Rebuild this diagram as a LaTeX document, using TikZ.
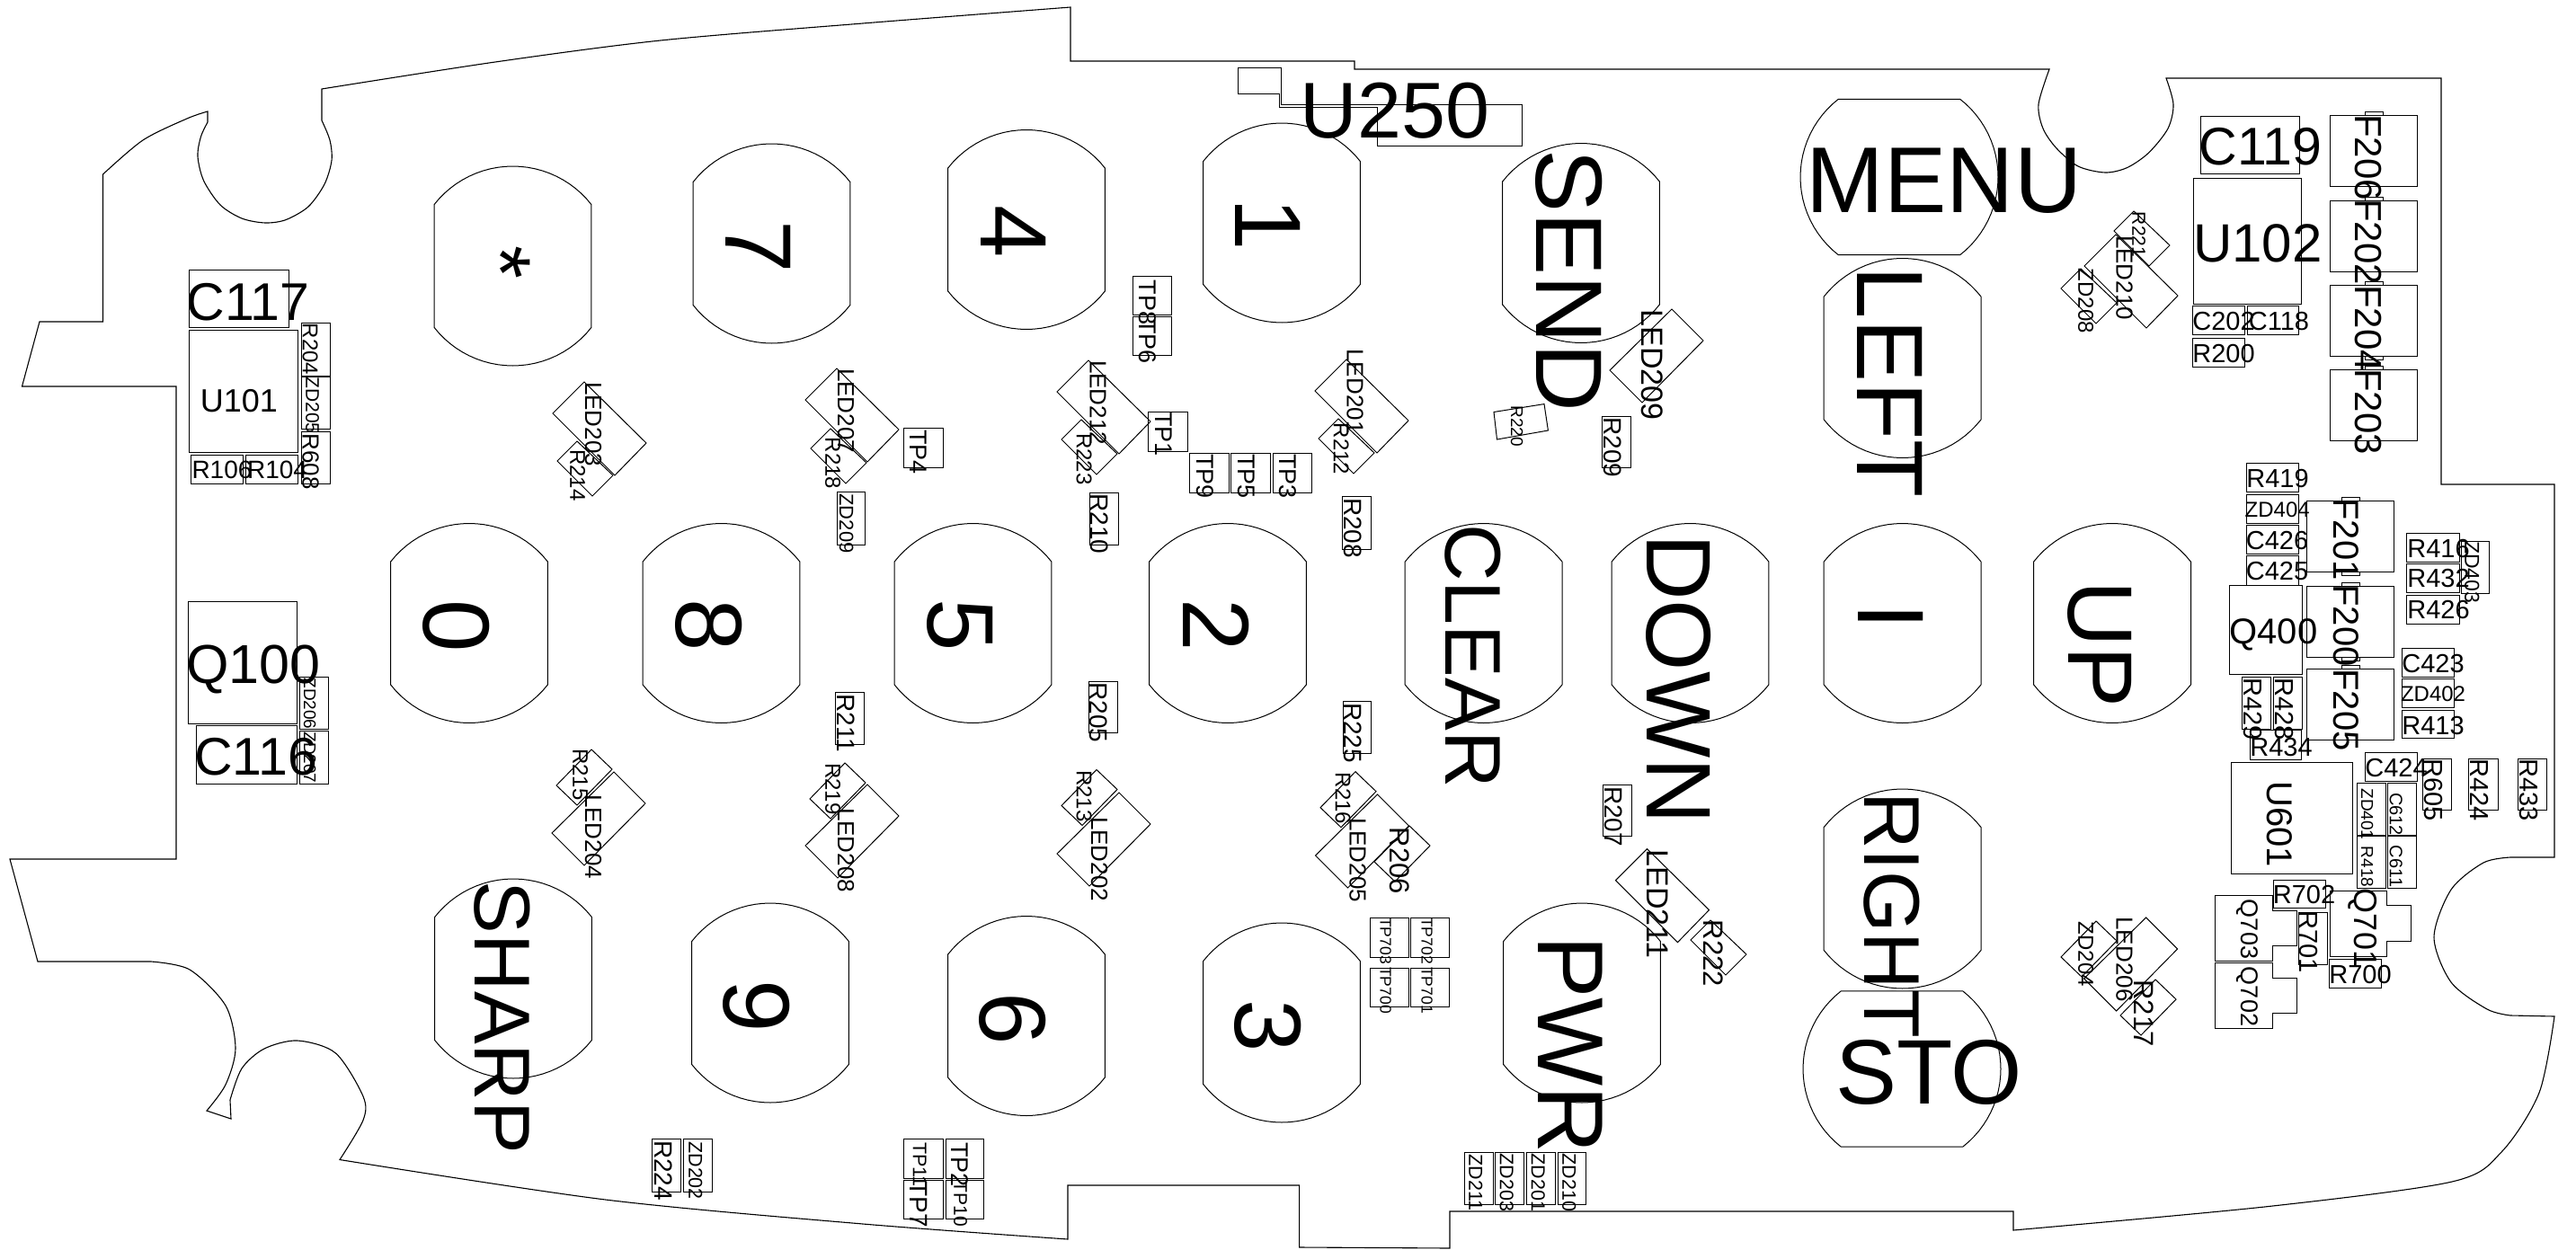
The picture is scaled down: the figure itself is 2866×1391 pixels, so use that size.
\documentclass[tikz,border=0pt]{standalone}
\usepackage{fontspec}
\setmainfont{Liberation Sans}
\tikzset{
  part/.style={line width=1pt,draw=black,line join=miter},
  board/.style={line width=1.1pt,draw=black,line join=miter},
  lab/.style={inner sep=0pt,outer sep=0pt,text=black}
}
\newcommand\hlab[4]{\node[lab,font=\fontsize{#3}{#3}\selectfont,text height=#3*0.72pt,text depth=0pt] (t-#4) at (#1,#2) {#4};}
\newcommand\vlab[4]{\node[lab,rotate=-90,font=\fontsize{#3}{#3}\selectfont,text height=#3*0.72pt,text depth=0pt] (t-#4) at (#1,#2) {#4};}
\newcommand\rc[4]{\draw[part] (#1,#2) rectangle (#3,#4);}
\newcommand\vkeycap[2]{\draw[part] plot[domain=218:322,samples=25,variable=\t] ({#1+111*cos(\t)},{#2+111*sin(\t)}) -- plot[domain=38:142,samples=25,variable=\t] ({#1+111*cos(\t)},{#2+111*sin(\t)}) -- cycle;}
\newcommand\hkeycap[2]{\draw[part] plot[domain=-52:52,samples=25,variable=\t] ({#1+110*cos(\t)},{#2+110*sin(\t)}) -- plot[domain=128:232,samples=25,variable=\t] ({#1+110*cos(\t)},{#2+110*sin(\t)}) -- cycle;}
\newcommand\leda[2]{\draw[part,shift={(#1,#2)}] (0,0) -- (-35,35) -- (34,104) -- (69,68) -- cycle;}
\newcommand\ledb[2]{\draw[part,shift={(#1,#2)}] (0,0) -- (35,35) -- (-33,104) -- (-69,68) -- cycle;}
\newcommand\resa[2]{\draw[part,shift={(#1,#2)}] (0,0) -- (-22,22) -- (17,61) -- (40,38) -- cycle;}
\newcommand\resb[2]{\draw[part,shift={(#1,#2)}] (0,0) -- (23,22) -- (-16,62) -- (-39,40) -- cycle;}
\newcommand\fuse[3]{\draw[part] (#1,#2) rectangle ++(97,79); \draw[part] (#1+39,#2) -- (#1+39,#2-4) -- (#1+59,#2-4) -- (#1+59,#2);}
\newcommand\fusetail[2]{\draw[part] (#1+39,#2+79) -- (#1+39,#2+83) -- (#1+59,#2+83) -- (#1+59,#2+79);}
\newcommand\tshape[2]{\draw[part,shift={(#1,#2)}] (0,0) -- (64,0) -- (64,17) -- (91.7,17) -- (91.7,56) -- (64,56) -- (64,73) -- (0,73) -- cycle;}
\begin{document}
\begin{tikzpicture}[x=1pt,y=-1pt]
\useasboundingbox (0,0) rectangle (2866,1391);
% board outline
\draw[board] (358,99) -- (358,134)
 -- plot[smooth] coordinates {(358,134) (367,156) (369,178.6) (361,205) (343,230) (318,244.6) (295,248) (269,243) (245,228) (226.6,201) (220,174) (223.5,152) (231,136)}
 -- (231,124)
 -- plot[smooth] coordinates {(231,124) (208,132) (159,156) (114.5,194)}
 -- (114.5,358) -- (44,358) -- (24.5,430) -- (196,430) -- (196,956) -- (11,956) -- (42,1070) -- (168,1070)
 -- plot[smooth] coordinates {(168,1070) (211,1079) (251,1119) (262,1167) (251,1207) (230,1236)}
 -- (257,1245) -- (256,1224)
 -- plot[smooth] coordinates {(256,1224) (269,1189) (294,1167) (331,1158) (373.5,1172) (404,1220) (404,1246.5) (378,1290.5)}
 -- plot[smooth] coordinates {(378,1290.5) (673.6,1335) (960,1362) (1188,1379)}
 -- (1188,1319) -- (1445.6,1319) -- (1445.6,1388) -- (1613,1389) -- (1613,1348) -- (2240,1348) -- (2240,1369)
 -- plot[smooth] coordinates {(2240,1369) (2523,1342.6) (2728,1315) (2783,1282) (2825,1216) (2842,1131)}
 -- (2793,1130)
 -- plot[smooth] coordinates {(2793,1130) (2767,1123) (2727,1093) (2708,1043) (2727,990) (2763,960) (2793,954)}
 -- (2842,954) -- (2842,539) -- (2716,539) -- (2716,87) -- (2410,87)
 -- plot[smooth] coordinates {(2410,87) (2418,116) (2412,143) (2390.6,170) (2366.5,186.6) (2342,192) (2312,185) (2288,165) (2273,143) (2268,116) (2280,77)}
 -- (1507,77) -- (1507,68) -- (1191,68) -- (1191,8)
 -- plot[smooth] coordinates {(1191,8) (960,26) (735,45) (551,69) (358,99)}
 -- cycle;
% keys
\vkeycap{570.5}{296}\vkeycap{858.5}{271}\vkeycap{1142}{255.5}\vkeycap{1426}{248}\vkeycap{1759}{270.5}\vkeycap{2116.6}{398.5}
\vkeycap{522}{693.5}\vkeycap{802.5}{693.5}\vkeycap{1082.5}{693.5}\vkeycap{1366}{693.5}\vkeycap{1650.6}{693.5}\vkeycap{1880.5}{693.5}\vkeycap{2116.6}{693.5}\vkeycap{2350}{693.5}
\vkeycap{2116.6}{989}\vkeycap{571}{1089}\vkeycap{857}{1116}\vkeycap{1142}{1130.5}\vkeycap{1426}{1138}\vkeycap{1760}{1116}
\hkeycap{2113}{197}\hkeycap{2116}{1189.5}
% key labels
\vlab{559}{292}{95}{*}
\vlab{845}{274.5}{105}{7}
\vlab{1129.5}{258}{105}{4}
\vlab{1412}{250}{105}{1}
\vlab{1747}{312}{105}{SEND}
\vlab{509}{696.5}{105}{0}
\vlab{790}{696}{105}{8}
\vlab{1070}{696}{105}{5}
\vlab{1354}{696}{105}{2}
\vlab{1640}{730}{88}{CLEAR}
\vlab{1869}{755.5}{102}{DOWN}
\vlab{2105}{686}{105}{I}
\vlab{2338.5}{717}{102}{UP}
\vlab{2104}{425}{105}{LEFT}
\hlab{2163}{199}{104}{MENU}
\hlab{1552}{121.5}{88}{U250}
\vlab{2106}{1018}{88}{RIGHT}
\hlab{2146}{1192}{102}{STO}
\vlab{560}{1132.5}{88}{SHARP}
\vlab{843}{1120}{105}{9}
\vlab{1128}{1134}{105}{6}
\vlab{1412}{1142}{105}{3}
\vlab{1749}{1162.5}{104}{PWR}
% U250 outline
\draw[part] (1377.6,76) -- (1425.4,76) -- (1425.4,117) -- (1693,117) -- (1693,163) -- (1532.5,163) -- (1532.5,119.6) -- (1423.5,119.6) -- (1423.5,105) -- (1377.6,105) -- cycle;
% diamonds
\leda{650}{425}\leda{931}{410}\leda{1211}{401}\leda{1498}{400}\leda{1832.5}{944.6}\leda{2354}{261}
\ledb{1860}{344}\ledb{683}{859}\ledb{965}{873}\ledb{1245}{882}\ledb{1532.5}{884}\ledb{2387.6}{1021}
\resa{642}{491}\resa{924}{477}\resa{1203}{467}\resa{1489}{466}\resa{1903}{1024}\resa{2374}{235}\resa{2315}{299}
\resb{658}{834}\resb{940}{849}\resb{1220}{856.5}\resb{1508}{858.7}\resb{1568}{919}\resb{2332}{1025}\resb{2398}{1090}
\draw[part] (1662,458.5) -- (1718,449.6) -- (1722.4,479) -- (1665.5,489) -- cycle;
% diamond labels
\vlab{660.5}{472}{26}{LED203}\vlab{643}{529}{24}{R214}
\vlab{941.5}{457}{26}{LED207}\vlab{927}{515.5}{24}{R218}
\vlab{1222}{448}{26}{LED212}\vlab{1206.5}{511}{24}{R223}
\vlab{1508}{435.5}{26}{LED201}\vlab{1492.5}{499.5}{24}{R212}
\vlab{1839}{406}{34}{LED209}\vlab{1688}{474}{19}{R220}
\vlab{646}{862}{24}{R215}\vlab{660.5}{931}{26}{LED204}
\vlab{927}{878}{24}{R219}\vlab{941.5}{946}{26}{LED208}
\vlab{1206.5}{886}{24}{R213}\vlab{1223.5}{956}{26}{LED202}
\vlab{1494.5}{888.5}{24}{R216}\vlab{1511}{957}{26}{LED205}
\vlab{1558}{958}{31}{R206}
\vlab{1844.5}{1006}{34}{LED211}\vlab{1907}{1061}{31}{R222}
\vlab{2380}{261}{21}{R221}\vlab{2364}{309}{26}{LED210}\vlab{2321}{335}{24}{ZD208}
\vlab{2364}{1067.5}{26}{LED206}\vlab{2321}{1062}{24}{ZD204}\vlab{2386}{1127.5}{31}{R217}
% left group
\rc{210}{300.5}{321.7}{364}\hlab{276}{335}{59}{C117}
\rc{210.7}{367}{331.7}{503}\hlab{266}{445.5}{36}{U101}
\rc{335.7}{359}{367}{418}\vlab{345.5}{388.5}{24}{R204}
\rc{335.7}{419}{367}{477.6}\vlab{348}{451}{21}{ZD205}
\rc{335.7}{480}{367}{538}\vlab{346}{513.6}{26}{R608}
\rc{212.7}{506.5}{270.7}{538}\hlab{247}{522}{28}{R106}
\rc{273}{506.5}{331.7}{538}\hlab{308.5}{522}{28}{R104}
\rc{209}{669}{330}{805}\hlab{282}{738.5}{61}{Q100}
\rc{218}{807.7}{330}{872}\hlab{284.5}{841.5}{59}{C116}
\rc{333.7}{753.5}{365}{811.6}\vlab{345}{783}{19}{ZD206}
\rc{333.7}{813.6}{365}{872}\vlab{345}{843}{19}{ZD207}
% middle group
\rc{931}{547}{962}{606}\vlab{942}{582.5}{22}{ZD209}
\rc{1005}{476}{1049}{520}\vlab{1022.5}{503}{27}{TP4}
\rc{1277}{458}{1321}{502}\vlab{1295}{483}{27}{TP1}
\rc{1323}{504}{1367}{548}\vlab{1341}{530}{27}{TP9}
\rc{1369}{504}{1413}{548}\vlab{1387}{530}{27}{TP5}
\rc{1416}{504}{1459}{548}\vlab{1433}{530}{27}{TP3}
\rc{1212}{548}{1244}{606}\vlab{1224}{583}{28}{R210}
\rc{1493}{552}{1525}{611}\vlab{1506}{587.5}{28}{R208}
\rc{1260.6}{307}{1303.5}{350}\vlab{1277.5}{336.6}{27}{TP8}
\rc{1260.6}{352}{1303.5}{395}\vlab{1277}{380}{27}{TP6}
\rc{1782}{463}{1814}{520}\vlab{1795}{498}{28}{R209}
\rc{1211}{758}{1243}{815.5}\vlab{1222.5}{793}{28}{R205}
\rc{929.5}{770.5}{961}{828}\vlab{941.5}{805}{28}{R211}
\rc{1494}{780.6}{1525}{838}\vlab{1505.5}{815.6}{28}{R225}
\rc{1783.5}{873}{1815.4}{930.5}\vlab{1795.5}{908.5}{28}{R207}
\rc{1524.5}{1021}{1567.4}{1065}\vlab{1542}{1047}{17.5}{TP703}
\rc{1569}{1021}{1612}{1065}\vlab{1588}{1047}{17.5}{TP702}
\rc{1524.5}{1077}{1567.4}{1120}\vlab{1542}{1102}{17.5}{TP700}
\rc{1569}{1077}{1612}{1120}\vlab{1588}{1102}{17.5}{TP701}
\rc{1005}{1267.6}{1049}{1311}\vlab{1023.5}{1296}{21.5}{TP11}
\rc{1005}{1313.5}{1049}{1356.7}\vlab{1022.5}{1340}{28}{TP7}
\rc{1052}{1267.6}{1094}{1311}\vlab{1068.5}{1296}{27}{TP2}
\rc{1052}{1313.5}{1094}{1356.7}\vlab{1069}{1340}{21}{TP10}
\rc{1629}{1282}{1661}{1340}\vlab{1642}{1316}{21.5}{ZD211}
\rc{1663}{1282}{1695}{1340}\vlab{1676.5}{1316}{21.5}{ZD203}
\rc{1698}{1282}{1730}{1340}\vlab{1711.5}{1316}{21.5}{ZD201}
\rc{1733}{1282}{1764.6}{1340}\vlab{1746}{1316}{21.5}{ZD210}
\rc{725.6}{1267.6}{757.5}{1326}\vlab{738.5}{1302.6}{28}{R224}
\rc{760}{1267.6}{792}{1326}\vlab{774}{1302.6}{21.5}{ZD202}
% upper right
\rc{2448.5}{129.5}{2558}{193.3}\hlab{2515}{162}{59}{C119}
\rc{2440.7}{198.7}{2560.7}{338}\hlab{2512}{270}{60}{U102}
\rc{2439.5}{340.6}{2497.4}{372.8}\hlab{2474}{357}{29}{C202}
\rc{2500.4}{340.6}{2557.7}{372.8}\hlab{2535.5}{357}{29}{C118}
\rc{2439.5}{376}{2497.4}{408.5}\hlab{2474}{393.5}{29}{R200}
\fuse{2592}{128.6}{}\vlab{2635.5}{175}{42}{F206}
\fuse{2592}{223.7}{}\vlab{2635.5}{269}{42}{F202}
\fuse{2592}{317}{}\fusetail{2592}{317}\vlab{2635.5}{365}{42}{F204}
\fuse{2592}{411.6}{}\vlab{2635.5}{458}{42}{F203}
% lower right
\fuse{2566.7}{557.7}{}\fusetail{2566.7}{557.7}\vlab{2611}{600}{40}{F201}
\fuse{2566.7}{652.7}{}\fusetail{2566.7}{652.7}\vlab{2611}{696}{40}{F200}
\fuse{2566.7}{744}{}\vlab{2611}{790}{40}{F205}
\rc{2499}{515}{2557}{547.7}\hlab{2534}{531.7}{29}{R419}
\rc{2499}{550.7}{2557}{582.3}\hlab{2533.7}{567}{24}{ZD404}
\rc{2499}{584}{2557}{616}\hlab{2533.5}{601}{29}{C426}
\rc{2499}{618}{2557}{651}\hlab{2533.5}{635}{29}{C425}
\rc{2480}{651.7}{2561}{750}\hlab{2529.5}{702.5}{40}{Q400}
\rc{2494}{753}{2526.7}{811}\vlab{2506.7}{789}{29}{R429}
\rc{2529}{753}{2561}{811}\vlab{2541.5}{789}{29}{R428}
\rc{2503}{812.7}{2560.7}{845}\hlab{2538}{831}{29}{R434}
\rc{2677.7}{593.7}{2736.7}{625.7}\hlab{2713}{610}{29}{R416}
\rc{2677.7}{627}{2736.7}{659}\hlab{2713}{643}{29}{R432}
\rc{2677.7}{662}{2736.7}{694}\hlab{2713}{678}{29}{R426}
\rc{2738}{602}{2769}{660}\vlab{2750.5}{636.7}{23}{ZD403}
\rc{2672}{721}{2730.7}{753}\hlab{2707}{738}{29}{C423}
\rc{2672}{755.7}{2730.7}{787}\hlab{2707}{772}{24}{ZD402}
\rc{2672}{790}{2730.7}{821.7}\hlab{2707}{806.7}{29}{R413}
\rc{2631}{837}{2689.7}{869}\hlab{2666}{854}{29}{C424}
\rc{2482}{848}{2617.7}{972}\vlab{2537}{917}{40}{U601}
\rc{2622.7}{871}{2654}{929}\vlab{2634}{906}{19}{ZD401}
\rc{2656.7}{871}{2688}{929}\vlab{2666}{906}{20}{C612}
\rc{2622.7}{930}{2654}{988}\vlab{2634}{964.5}{19}{R418}
\rc{2656.7}{930}{2688}{988}\vlab{2666}{964}{20}{C611}
\rc{2695.7}{844}{2727.7}{901}\vlab{2708}{879}{29}{R605}
\rc{2746.7}{844}{2779}{901}\vlab{2759}{879}{29}{R424}
\rc{2801.7}{844}{2833}{901}\vlab{2814}{879}{29}{R433}
\rc{2529}{979}{2587.7}{1010}\hlab{2563.5}{995}{29}{R702}
\rc{2557}{1015}{2589}{1073}\vlab{2569}{1048}{29}{R701}
\rc{2591.7}{1067.7}{2649.7}{1099}\hlab{2626}{1084}{29}{R700}
\draw[part] (2592,991) -- (2655.7,991) -- (2655.7,1007.7) -- (2682.7,1007.7) -- (2682.7,1047.3) -- (2655.7,1047.3) -- (2655.7,1064) -- (2592,1064) -- cycle;
\vlab{2632}{1033}{36}{Q701}
\tshape{2464}{996}\vlab{2503}{1034}{27}{Q703}
\tshape{2464}{1071}\vlab{2503}{1109}{27}{Q702}
\end{tikzpicture}
\end{document}
